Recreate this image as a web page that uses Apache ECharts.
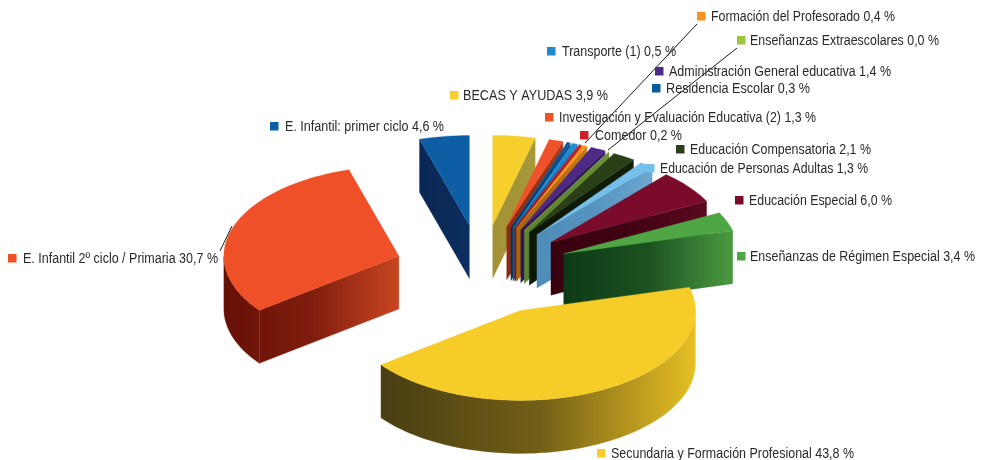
<!DOCTYPE html>
<html><head><meta charset="utf-8">
<style>html,body{margin:0;padding:0;background:#fff}#c{width:982px;height:460px}</style>
<script src="https://cdn.jsdelivr.net/npm/echarts@6/dist/echarts.min.js"></script>
</head><body><div id="c"></div>
<script>
// Data, clockwise from 12 o'clock
const categories = ['BECAS Y AYUDAS','Investigación y Evaluación Educativa (2)','Residencia Escolar','Transporte (1)','Comedor','Formación del Profesorado','Administración General educativa','Enseñanzas Extraescolares','Educación Compensatoria','Educación de Personas Adultas','Educación Especial','Enseñanzas de Régimen Especial','Secundaria y Formación Profesional','E. Infantil 2º ciclo / Primaria','E. Infantil: primer ciclo'];
const values = [3.9,1.3,0.3,0.5,0.2,0.4,1.4,0.04,2.1,1.3,6.0,3.4,43.8,30.7,4.6];

// Styles
const topColors = ['#f6cf2c','#ef5228','#0b5a9c','#1f8ad2','#c9202a','#f7941e','#4e2a86','#9fc53b','#2a3f18','#74c0ea','#7b0b2b','#4ea645','#f6cc28','#ef5027','#0e5ea6'];
const wallDark  = ['#a39336','#8e2a10','#062f58','#125a90','#7a1015','#a8650f','#2a1650','#5d8230','#0c1706','#4f8db9','#38000f','#0d3a16','#4a3e12','#661006','#0a2855'];
const wallLight = ['#a79838','#b53a18','#0a4a85','#2a84c0','#a01a20','#c67c16','#3a2070','#6b9236','#141f0a','#6ba7d0','#5a0a1e','#4a9a40','#e6bf24','#c94522','#0c2e60'];

// Layout
const CX = 482, CY = 270, RX = 175, RY = 90, DEPTH = 53, EXPLODE = 0.5, TEXT_DY = 1;
const FONT = '"Liberation Sans",Arial,sans-serif';
//                 square x,y  text x  width
const labelPlace = [[454,95,463,145],[549,117,559,257],[656,88,666,144],[551,51,562,114],[584,135,595,87],[701,16,711,184],[659,71,669,222],[741,40,750,189],[680,149,690,181],[650,168,660,208],[739,200,749,143],[741,256,750,225],[601,453,611,243],[12,258,23,195],[274,126,285,159]];
const leaderLines = [[[697,24],[585,143]],[[737,48],[608,150]],[[232,226],[220,251]]];

const total = values.reduce((a,b)=>a+b,0);
const D2R = Math.PI/180;
const cum = [];
values.reduce((a,v,i)=>{cum[i]=a;return a+v;},0);

function renderSlice(params, api){
  const i = params.dataIndex, v = api.value(1);
  const a0 = cum[i]/total*360, a1 = (cum[i]+v)/total*360, mid=(a0+a1)/2;
  const ax = EXPLODE*Math.sin(mid*D2R), ay = EXPLODE*Math.cos(mid*D2R);
  const p = a => api.coord([ax+Math.sin(a*D2R), ay+Math.cos(a*D2R)]);
  const apex = api.coord([ax,ay]);
  const down = q => [q[0],q[1]+DEPTH];
  const arc = (s,e) => { const r=[]; const n=Math.max(1,Math.ceil((e-s)/2)); for(let k=0;k<=n;k++) r.push(p(s+(e-s)*k/n)); return r; };
  const topPts = [apex].concat(arc(a0,a1));
  const walls = [];
  if (Math.sin(a0*D2R) < 0) walls.push([apex,p(a0),down(p(a0)),down(apex)]);
  if (Math.sin(a1*D2R) > 0) walls.push([apex,p(a1),down(p(a1)),down(apex)]);
  const s=Math.max(a0,90), e=Math.min(a1,270);
  if (e>s){ const t=arc(s,e); walls.push(t.concat(t.map(down).reverse())); }
  let minX=Infinity,maxX=-Infinity;
  walls.forEach(w=>w.forEach(q=>{minX=Math.min(minX,q[0]);maxX=Math.max(maxX,q[0]);}));
  const fill = new echarts.graphic.LinearGradient(minX,0,maxX,0,[
    {offset:0,color:wallDark[i]},
    {offset:0.5,color:echarts.color.lerp(0.25,[wallDark[i],wallLight[i]])},
    {offset:1,color:wallLight[i]}],true);
  const children = walls.map(w=>({type:'polygon',shape:{points:w},style:{fill:fill,stroke:fill,lineWidth:0.3}}));
  children.push({type:'polygon',shape:{points:topPts},style:{fill:topColors[i],stroke:topColors[i],lineWidth:0.3}});
  return {type:'group',children};
}

const fmt = v => v.toFixed(1).replace('.',',')+' %';
const measure = document.createElement('canvas').getContext('2d');
measure.font = '14px '+FONT;
const graphics = [];
leaderLines.forEach(l=>graphics.push({type:'line',z:20,shape:{x1:l[0][0],y1:l[0][1],x2:l[1][0],y2:l[1][1]},style:{stroke:'#1a1a1a',lineWidth:1}}));
categories.forEach((c,i)=>{
  const pl = labelPlace[i], str = c+' '+fmt(values[i]);
  const w = measure.measureText(str).width;
  graphics.push({type:'rect',z:21,shape:{x:pl[0]-4,y:pl[1]-4,width:8.5,height:8.5},style:{fill:topColors[i]}});
  graphics.push({type:'text',z:22,x:pl[2],y:pl[1]+TEXT_DY,scaleX:pl[3]/w,originX:0,
    style:{text:str,font:'14px '+FONT,fill:'#2b2829',textVerticalAlign:'middle',textAlign:'left'}});
});

const chart = echarts.init(document.getElementById('c'),null,{renderer:'canvas'});
chart.setOption({
  animation:false,
  backgroundColor:'#ffffff',
  grid:{left:0,right:0,top:0,bottom:0},
  xAxis:{type:'value',show:false,min:-CX/RX,max:(982-CX)/RX},
  yAxis:{type:'value',show:false,min:-(460-CY)/RY,max:CY/RY},
  graphic:graphics,
  series:[{type:'custom',coordinateSystem:'cartesian2d',clip:false,
    renderItem:renderSlice,encode:{x:0,y:1},
    data:values.map((v,i)=>[i,v]),tooltip:{show:false},silent:true}]
});
</script></body></html>
